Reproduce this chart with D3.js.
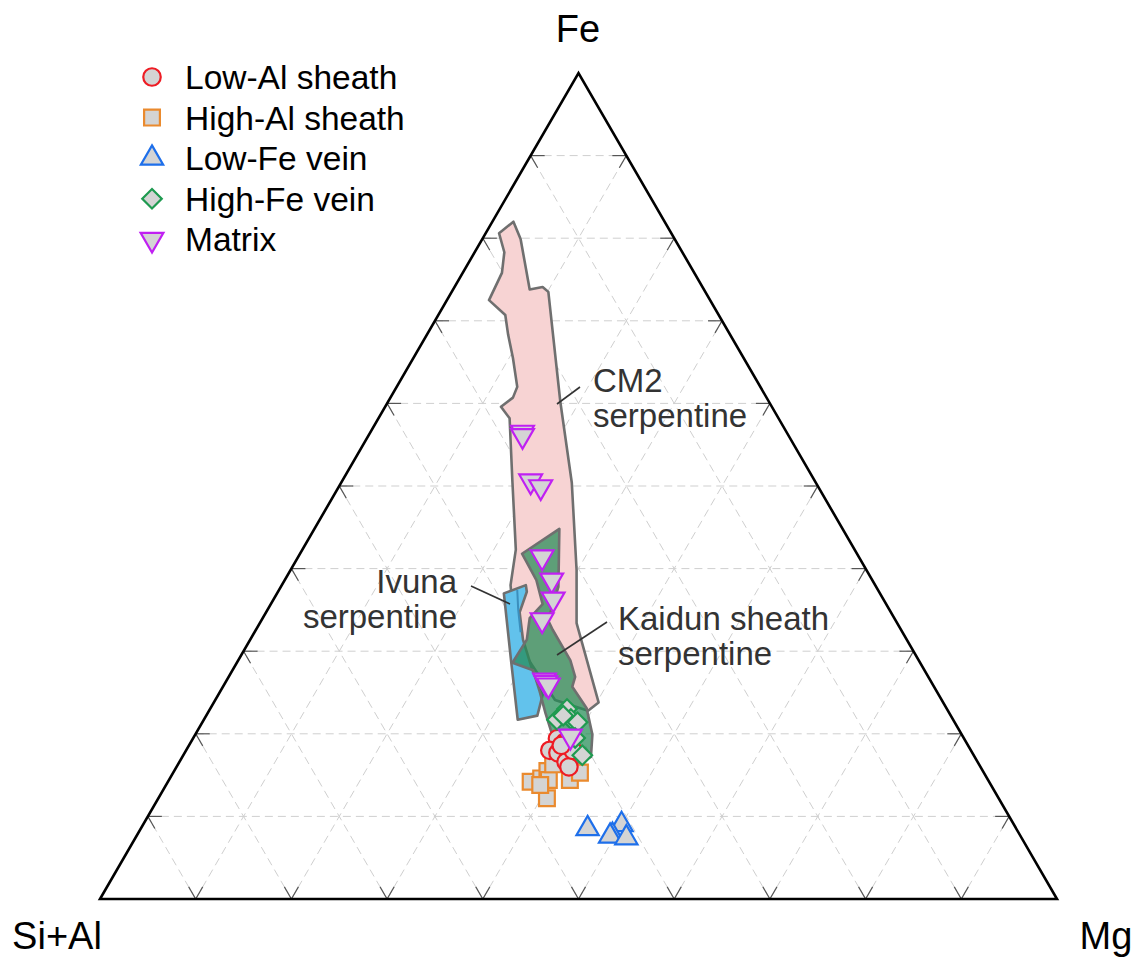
<!DOCTYPE html>
<html>
<head>
<meta charset="utf-8">
<script src="https://cdn.jsdelivr.net/npm/d3@7"></script>
<style>
  body { margin: 0; background: #fff; }
  text { font-family: "Liberation Sans", Arial, sans-serif; }
</style>
</head>
<body>
<script>
// all compositions are [Fe, Mg] in %, Si+Al is the remainder

const cm2Serpentine = [
  [80.6, 1.4], [82.0, 2.2], [79.9, 4.0], [73.8, 8.0], [74.1, 9.2], [73.5, 10.1],
  [60.2, 18.0], [50.4, 24.1], [39.8, 29.9], [33.4, 33.1], [23.8, 40.2], [22.8, 39.6],
  [24.1, 35.5], [31.4, 27.7], [38.0, 23.9], [42.3, 22.3], [50.4, 17.9], [58.2, 13.7],
  [59.6, 12.1], [60.7, 12.8], [62.0, 12.6], [65.5, 10.4], [68.3, 8.5], [70.7, 7.0],
  [72.5, 4.4], [75.8, 4.1], [78.3, 3.1]
];

const ivunaSerpentine = [
  [37.0, 23.7], [38.0, 25.5], [37.2, 26.0], [34.7, 26.5], [31.4, 28.5], [28.0, 31.1],
  [24.7, 33.9], [22.2, 34.6], [21.7, 32.8], [28.9, 28.5]
];
const ivunaInner = [[37.4, 24.9], [35.0, 26.2], [32.3, 27.8]];

const kaidunSerpentine = [
  [44.8, 25.6], [37.8, 29.0], [35.2, 29.6], [33.8, 29.9], [32.6, 31.0], [28.9, 34.7],
  [26.9, 36.2], [25.7, 36.5], [23.1, 39.3], [19.9, 41.5], [17.2, 42.7], [16.2, 41.5],
  [19.9, 37.3], [22.5, 35.3], [25.1, 33.4], [27.7, 31.4], [28.6, 28.8], [31.4, 28.9],
  [34.0, 27.9], [35.7, 28.4], [38.6, 26.3], [41.8, 23.2]
];

const highAlSheath = [
  [14.2, 37.9], [14.6, 38.8], [15.5, 39.0], [14.4, 39.7], [12.2, 40.6],
  [14.4, 41.9], [15.3, 42.5], [16.3, 39.2], [13.8, 39.1]
];
const lowAlSheath = [
  [19.4, 38.1], [19.0, 39.1], [18.0, 38.0], [17.7, 39.0],
  [16.6, 40.4], [16.0, 41.0], [18.0, 40.4], [18.6, 38.9]
];
const highFeVein = [
  [23.0, 37.3], [21.7, 36.9], [21.8, 38.3], [21.4, 39.2], [22.2, 37.3], [19.5, 39.9], [17.4, 41.7]
];
const lowFeVein = [
  [8.5, 46.7], [9.0, 50.0], [7.7, 49.7], [7.6, 49.5], [7.4, 51.3]
];
const matrix = [
  [56.5, 15.9], [56.1, 16.1], [50.6, 19.7], [49.9, 21.1], [41.4, 25.5], [38.6, 27.9],
  [36.3, 29.2], [33.8, 29.3], [26.5, 33.2], [26.2, 33.5], [25.9, 33.9], [19.7, 39.3]
];

const gridSteps = [10, 20, 30, 40, 50, 60, 70, 80, 90];
const seriesNames = ['Low-Al sheath', 'High-Al sheath', 'Low-Fe vein', 'High-Fe vein', 'Matrix'];

const width = 1141, height = 961;

const svg = d3.select('body').append('svg')
    .attr('width', width)
    .attr('height', height);

const xScale = d3.scaleLinear().domain([0, 100]).range([100, 1057]);
const yScale = d3.scaleLinear().domain([0, 100]).range([899, 73]);
const project = ([fe, mg]) => [xScale(mg + fe / 2), yScale(fe)];

// grid: constant Fe, constant Mg, constant Si+Al
const gridLines = [];
gridSteps.forEach(k => {
    gridLines.push([[k, 0], [k, 100 - k]]);
    gridLines.push([[0, k], [100 - k, k]]);
    gridLines.push([[0, 100 - k], [100 - k, 0]]);
});

const gridG = svg.append('g');
gridG.selectAll('line.grid')
    .data(gridLines)
    .enter().append('line')
    .attr('class', 'grid')
    .attr('x1', d => project(d[0])[0])
    .attr('y1', d => project(d[0])[1])
    .attr('x2', d => project(d[1])[0])
    .attr('y2', d => project(d[1])[1])
    .attr('stroke', '#cfcfcf')
    .attr('stroke-width', 1)
    .attr('stroke-dasharray', '8,5');

// small ticks at both ends of every grid line
const tickLen = 14;
const ticks = [];
gridLines.forEach(([a, b]) => {
    const pa = project(a), pb = project(b);
    const len = Math.hypot(pb[0] - pa[0], pb[1] - pa[1]);
    const ux = (pb[0] - pa[0]) / len, uy = (pb[1] - pa[1]) / len;
    ticks.push([pa, [pa[0] + ux * tickLen, pa[1] + uy * tickLen]]);
    ticks.push([pb, [pb[0] - ux * tickLen, pb[1] - uy * tickLen]]);
});
gridG.selectAll('line.tick')
    .data(ticks)
    .enter().append('line')
    .attr('class', 'tick')
    .attr('x1', d => d[0][0]).attr('y1', d => d[0][1])
    .attr('x2', d => d[1][0]).attr('y2', d => d[1][1])
    .attr('stroke', '#555')
    .attr('stroke-width', 1.2);

// fields
const line = d3.line().curve(d3.curveLinearClosed);
const fields = [
    { pts: cm2Serpentine, fill: '#f7d3d3', opacity: 1 },
    { pts: ivunaSerpentine, fill: '#62c2ec', opacity: 1 },
    { pts: kaidunSerpentine, fill: '#238a55', opacity: 0.72 }
];
const fieldG = svg.append('g');
fieldG.selectAll('path.field')
    .data(fields)
    .enter().append('path')
    .attr('class', 'field')
    .attr('d', d => line(d.pts.map(project)))
    .attr('fill', d => d.fill)
    .attr('fill-opacity', d => d.opacity)
    .attr('stroke', '#6f6f6f')
    .attr('stroke-width', 2.6)
    .attr('stroke-linejoin', 'round');

fieldG.insert('path', 'path.field:last-child')
    .attr('d', d3.line()(ivunaInner.map(project)))
    .attr('fill', 'none')
    .attr('stroke', '#3b8fbd')
    .attr('stroke-width', 2);

// outer triangle
const corners = [[0, 0], [0, 100], [100, 0]];
svg.append('path')
    .attr('d', line(corners.map(project)))
    .attr('fill', 'none')
    .attr('stroke', '#000')
    .attr('stroke-width', 2.6)
    .attr('stroke-linejoin', 'miter');

// annotations
const annG = svg.append('g');
const annotations = [
    { lines: ['CM2', 'serpentine'], x: 593, y: 392, anchor: 'start', leader: [[557, 404], [580, 387]] },
    { lines: ['Ivuna', 'serpentine'], x: 457, y: 593, anchor: 'end', leader: [[471, 586], [510, 604]] },
    { lines: ['Kaidun sheath', 'serpentine'], x: 618, y: 630, anchor: 'start', leader: [[607, 622], [557, 655]] }
];
annotations.forEach(a => {
    annG.append('line')
        .attr('x1', a.leader[0][0]).attr('y1', a.leader[0][1])
        .attr('x2', a.leader[1][0]).attr('y2', a.leader[1][1])
        .attr('stroke', '#333')
        .attr('stroke-width', 1.6);
    a.lines.forEach((t, i) => {
        annG.append('text')
            .attr('x', a.x)
            .attr('y', a.y + i * 35)
            .attr('text-anchor', a.anchor)
            .attr('font-size', 33)
            .attr('fill', '#333')
            .text(t);
    });
});

// markers
const markerFill = '#d4d4d4';
const series = [
    { name: seriesNames[1], data: highAlSheath, color: '#ea8a2e', type: d3.symbolSquare, size: 250, rotate: 0 },
    { name: seriesNames[0], data: lowAlSheath, color: '#ee1c24', type: d3.symbolCircle, size: 240, rotate: 0 },
    { name: seriesNames[3], data: highFeVein, color: '#1f9a50', type: d3.symbolSquare, size: 190, rotate: 45 },
    { name: seriesNames[2], data: lowFeVein, color: '#1e6fea', type: d3.symbolTriangle, size: 215, rotate: 0 },
    { name: seriesNames[4], data: matrix, color: '#c020f2', type: d3.symbolTriangle, size: 225, rotate: 180 }
];

series.forEach(s => {
    svg.append('g').selectAll('path')
        .data(s.data)
        .enter().append('path')
        .attr('d', d3.symbol().type(s.type).size(s.size))
        .attr('transform', d => {
            const p = project(d);
            return `translate(${p[0]},${p[1]}) rotate(${s.rotate})`;
        })
        .attr('fill', markerFill)
        .attr('stroke', s.color)
        .attr('stroke-width', 2.2);
});

// legend
const legend = svg.append('g');
const legendOrder = [1, 0, 3, 2, 4].map(i => series[i]);
legendOrder.forEach((s, i) => {
    const cy = 77 + i * 40.6;
    legend.append('path')
        .attr('d', d3.symbol().type(s.type).size(s.size))
        .attr('transform', `translate(152,${cy}) rotate(${s.rotate})`)
        .attr('fill', markerFill)
        .attr('stroke', s.color)
        .attr('stroke-width', 2.2);
    legend.append('text')
        .attr('x', 185)
        .attr('y', cy + 12)
        .attr('font-size', 33.5)
        .attr('fill', '#000')
        .text(s.name);
});

// corner labels
const cornerLabels = [
    { text: 'Fe', x: 578, y: 42 },
    { text: 'Si+Al', x: 57, y: 949 },
    { text: 'Mg', x: 1106, y: 949 }
];
svg.append('g').selectAll('text')
    .data(cornerLabels)
    .enter().append('text')
    .attr('x', d => d.x)
    .attr('y', d => d.y)
    .attr('text-anchor', 'middle')
    .attr('font-size', 38)
    .attr('fill', '#000')
    .text(d => d.text);
</script>
</body>
</html>
